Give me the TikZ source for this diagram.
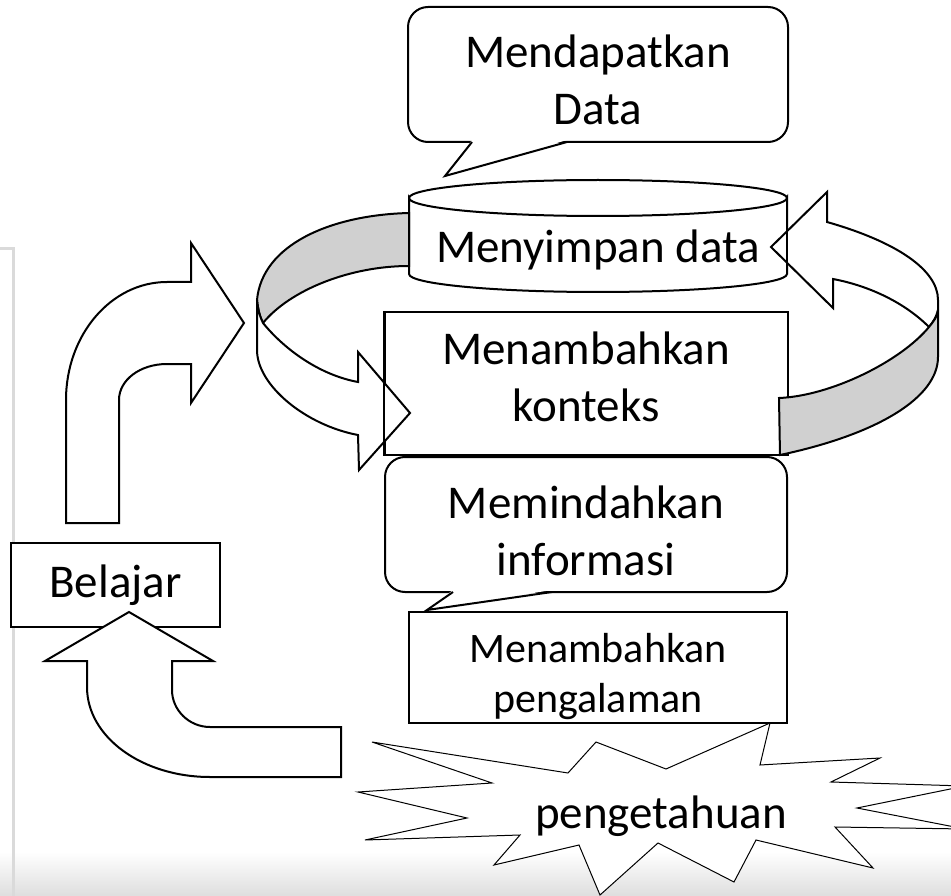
\documentclass[tikz,border=0pt]{standalone}
\usepackage{fontspec}
\setmainfont{Carlito}
\usetikzlibrary{positioning}
\definecolor{ringgray}{RGB}{208,208,208}
\definecolor{framegray}{RGB}{218,218,218}

\tikzset{
  box/.style={draw, fill=white, line width=2pt, inner sep=0pt},
  txt/.style={align=center, inner sep=0pt, font=\fontsize{47}{57}\selectfont},
  smalltxt/.style={txt, font=\fontsize{42}{50}\selectfont},
  ring/.style={draw, line width=2pt, line join=miter},
  blockarrow/.style={draw, fill=white, line width=2pt, line join=miter},
  spiky/.style={draw, fill=white, line width=1pt, line join=miter},
}

\begin{document}
\begin{tikzpicture}[x=1pt, y=-1pt]
    \useasboundingbox (0,0) rectangle (951,896);
    \shade[top color=white, bottom color=black!13] (0,852) rectangle (951,896);
    \draw[framegray, line width=3pt] (0,249) -- (13,249) -- (13,896);

    % silinder
    \draw[box] (409,198) -- (409,274) .. controls (409,284) and (494,292) .. (598,292)
        .. controls (702,292) and (787,284) .. (787,274) -- (787,198)
        .. controls (787,208) and (702,216) .. (598,216) .. controls (494,216) and (409,208) .. (409,198) -- cycle;
    \draw[line width=2pt] (409,198) .. controls (409,188) and (494,180) .. (598,180)
        .. controls (702,180) and (787,188) .. (787,198);

    \node[box, minimum width=403pt, minimum height=143pt] (konteks) at (586.5,383.5) {};

    % panah melingkar
    \draw[ring, fill=ringgray] (409,213) .. controls (330,215) and (262,245) .. (257,300)
        .. controls (258,310) and (260,317) .. (263,323) .. controls (290,290) and (350,266) .. (409,266) -- cycle;
    \draw[ring, fill=white] (263,323) .. controls (285,350) and (320,375) .. (358,382) -- (358,352) -- (410,413)
        -- (359,470) -- (358,435) .. controls (305,425) and (257,385) .. (257,350) -- (257,300)
        .. controls (258,310) and (260,317) .. (263,323) -- cycle;
    \draw[ring, fill=white] (827,222) .. controls (897,242) and (938,270) .. (938,300) -- (938,310)
        .. controls (936,318) and (933,322) .. (929,327) .. controls (905,303) and (870,286) .. (833,279)
        -- (833,308) -- (771,247) -- (827,192) -- cycle;
    \draw[ring, fill=ringgray] (929,327) .. controls (933,322) and (938,316) .. (938,310) -- (938,357)
        .. controls (938,397) and (879,434) .. (780,455) -- (779,398) .. controls (830,396) and (900,362) .. (929,327) -- cycle;
    \draw[line width=2pt] (787,226) -- (787,268);
    \draw[line width=2pt] (konteks.north west) -- (konteks.south west);

    \node[box, rounded corners=20pt, minimum width=380pt, minimum height=135pt] (ambil) at (598,74.5) {};
    \fill[white] (472,140) -- (445,176) -- (567,140) -- cycle;
    \draw[line width=2pt, line join=miter] (472,142) -- (445,176) -- (567,142);

    \node[box, rounded corners=20pt, minimum width=402pt, minimum height=135pt] (pindah) at (586,524.5) {};
    \fill[white] (453,590) -- (427,610) -- (552,590) -- cycle;
    \draw[line width=2pt, line join=miter] (453,592) -- (427,610) -- (552,592);

    \node[box, minimum width=378pt, minimum height=111pt] (alami) at (598,667.5) {};

    \node[box, txt, minimum width=209pt, minimum height=84pt] (belajar) at (115.5,585) {Belajar};

    % ledakan
    \draw[spiky] (372,742) -- (568,773) -- (596,742) -- (666,769) -- (770,723) -- (760,765) -- (880,758)
        -- (831,782) -- (965,786) -- (857,808) -- (965,829) -- (835,827) -- (873,868) -- (756,840)
        -- (734,882) -- (658,843) -- (600,895) -- (579,845) -- (494,865) -- (520,835) -- (365,840)
        -- (467,818) -- (358,792) -- (492,783) -- cycle;

    % panah belok
    \draw[blockarrow] (66,523) -- (66,400) .. controls (66,335) and (111,282) .. (167,282) -- (191,282)
        -- (191,243) -- (244,323) -- (191,403) -- (191,364) -- (167,364)
        .. controls (140,364) and (119,380) .. (119,400) -- (119,523) -- cycle;
    \draw[blockarrow] (129,612) -- (213,661) -- (172,661) -- (172,690) .. controls (172,710) and (189,727) .. (210,727)
        -- (341,727) -- (341,777) -- (210,777) .. controls (142,777) and (87,737) .. (87,687)
        -- (87,661) -- (45,661) -- cycle;

    \node[txt] (ambil-txt) at (598,80) {Mendapatkan\\Data};
    \node[txt, anchor=base] (simpan-txt) at (598,263) {Menyimpan data};
    \node[txt] (konteks-txt) at (586,377) {Menambahkan\\konteks};
    \node[txt] (pindah-txt) at (586,531) {Memindahkan\\informasi};
    \node[smalltxt] (alami-txt) at (598,677) {Menambahkan\\pengalaman};
    \node[txt, anchor=base] (tahu) at (661,828) {pengetahuan};
\end{tikzpicture}
\end{document}
